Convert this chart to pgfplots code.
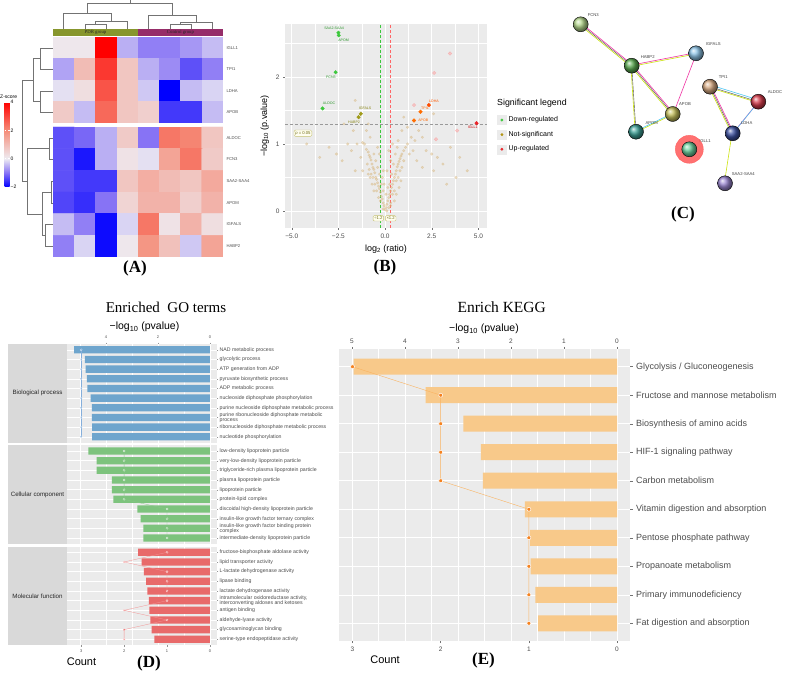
\documentclass[border=0pt]{standalone}
\usepackage{fontspec}
\setmainfont{Liberation Sans}
\newfontfamily\tnr{Liberation Serif}
\usepackage{pgfplots}
\pgfplotsset{compat=1.18}
\newcommand\fs[1]{\fontsize{#1}{#1}\selectfont}
\definecolor{txtgray}{HTML}{4D4D4D}
\definecolor{panelbg}{HTML}{EBEBEB}
\definecolor{stripbg}{HTML}{D9D9D9}
\definecolor{pdrc}{RGB}{135,150,45}
\definecolor{ctrlc}{RGB}{150,45,105}
\definecolor{downc}{RGB}{60,200,60}
\definecolor{olivec}{RGB}{160,155,25}
\definecolor{upc}{RGB}{235,35,40}
\definecolor{fainty}{RGB}{215,180,120}
\definecolor{bpbar}{RGB}{110,165,205}
\definecolor{bpdot}{RGB}{50,120,195}
\definecolor{ccbar}{RGB}{125,195,125}
\definecolor{ccdot}{RGB}{60,160,60}
\definecolor{mfbar}{RGB}{232,106,106}
\definecolor{mfdot}{RGB}{230,40,40}
\definecolor{keggbar}{RGB}{248,201,138}
\definecolor{keggdot}{RGB}{245,130,32}
\definecolor{nFCN}{RGB}{180,215,140}
\definecolor{nHAB}{RGB}{90,170,80}
\definecolor{nIGF}{RGB}{140,195,230}
\definecolor{nTPI}{RGB}{215,170,130}
\definecolor{nALD}{RGB}{215,60,75}
\definecolor{nAPB}{RGB}{195,190,90}
\definecolor{nAPM}{RGB}{60,160,150}
\definecolor{nLDH}{RGB}{60,80,160}
\definecolor{nIGL}{RGB}{110,210,160}
\definecolor{nSAA}{RGB}{155,135,210}
\pgfplotsset{colormap={zs}{rgb255(0cm)=(0,0,255) rgb255(1cm)=(135,115,245) rgb255(2cm)=(238,236,242) rgb255(4cm)=(245,140,120) rgb255(6cm)=(255,0,0)}}
\pgfplotsset{
 gobar/.style={scale only axis, width=150pt, height=98.6pt, x dir=reverse, xmin=-0.27, xmax=5.5,
  ymin=0.4, ymax=10.6, y dir=reverse, axis background/.style={fill=panelbg}, axis line style={draw=none},
  ytick={1,...,10}, ytick pos=right, yticklabel pos=right,
  yticklabel style={font=\fs{5.2}, text=txtgray, align=left, inner sep=1pt},
  xtick={0,2,4}, minor xtick={1,3,5}, grid=both, major grid style={white, line width=0.5pt},
  minor grid style={white, line width=0.25pt}, tick align=outside, major tick length=1.5pt,
  minor tick length=0pt, tick style={txtgray!60, line width=0.3pt}},
 gocount/.style={scale only axis, width=150pt, height=98.6pt, x dir=reverse, xmin=-0.163, xmax=3.33,
  ymin=0.4, ymax=10.6, y dir=reverse, axis line style={draw=none}, ytick=\empty, xtick=\empty}
}
\begin{document}
\begin{tikzpicture}
\useasboundingbox (0pt,0pt) rectangle (787pt,673pt);
\fill[white] (0pt,0pt) rectangle (787pt,673pt);

% ================= Panel A =================
\begin{axis}[at={(53pt,673pt)}, anchor=north west, scale only axis, width=170pt, height=29pt,
 xmin=53, xmax=223, ymin=0, ymax=29, y dir=reverse, hide axis, clip=false]
\addplot[black!55, line width=0.4pt, unbounded coords=jump] coordinates {
(84.9,29)(84.9,24)(106.1,24)(106.1,29) (nan,nan)
(95.5,24)(95.5,21)(127.4,21)(127.4,29) (nan,nan)
(63.6,29)(63.6,13)(111.5,13)(111.5,21) (nan,nan)
(169.9,29)(169.9,24)(191.1,24)(191.1,29) (nan,nan)
(180.5,24)(180.5,22)(212.4,22)(212.4,29) (nan,nan)
(148.6,29)(148.6,15)(196.5,15)(196.5,22) (nan,nan)
(87.5,13)(87.5,3)(172.5,3)(172.5,15) (nan,nan)
(130,3)(130,0)
};
\end{axis}

\begin{axis}[at={(0pt,636pt)}, anchor=north west, scale only axis, width=53pt, height=220pt,
 xmin=0, xmax=53, ymin=37, ymax=257, y dir=reverse, hide axis, clip=false]
\addplot[black!55, line width=0.4pt, unbounded coords=jump] coordinates {
(53,47.75)(40,47.75)(40,69.25)(53,69.25) (nan,nan)
(53,90.75)(40,90.75)(40,112.25)(53,112.25) (nan,nan)
(40,58.5)(33,58.5)(33,101.5)(40,101.5) (nan,nan)
(53,137.8)(49,137.8)(49,159.5)(53,159.5) (nan,nan)
(53,181.2)(51,181.2)(51,202.9)(53,202.9) (nan,nan)
(53,224.6)(45,224.6)(45,246.3)(53,246.3) (nan,nan)
(51,192.05)(42,192.05)(42,235.45)(45,235.45) (nan,nan)
(49,148.65)(27,148.65)(27,213.75)(42,213.75) (nan,nan)
(33,80)(22,80)(22,181.2)(27,181.2)
};
\end{axis}

\fill[pdrc] (53pt,644pt) rectangle (138pt,637pt);
\fill[ctrlc] (138pt,644pt) rectangle (223pt,637pt);
\node[font=\tnr\fs{4.8}, text=black!85] at (95.5pt,640.5pt) {PDR group};
\node[font=\tnr\fs{4.8}, text=black!85] at (180.5pt,640.5pt) {Control group};
\node[anchor=west, font=\fs{5}, inner sep=0pt] at (0pt,576pt) {Z-score};

\begin{axis}[at={(53pt,636pt)}, anchor=north west, scale only axis, width=170pt, height=86pt,
 xmin=0.5, xmax=8.5, ymin=0.5, ymax=4.5, y dir=reverse, axis line style={draw=none},
 xtick=\empty, ytick={1,2,3,4}, yticklabels={IGLL1,TPI1,LDHA,APOB}, yticklabel pos=right,
 major tick length=0pt, yticklabel style={font=\fs{4.2}, text=txtgray},
 colormap name=zs, point meta min=-2, point meta max=4,
 colorbar, colorbar style={at={(parent axis.north west)}, anchor=north east, xshift=-52pt, yshift=-65pt,
  scale only axis, width=5pt, height=85pt, ytick={-2,0,2,4}, yticklabels={−2,0,2,4},
  yticklabel style={font=\fs{5}, text=black, inner sep=1pt}, major tick length=1.5pt,
  axis line style={draw=none}, tick style={white, line width=0.4pt}}]
\addplot[matrix plot*, mesh/cols=8, mesh/rows=4, point meta=explicit] table[meta=c] {
x y c
1 1 0.1
2 1 0.1
3 1 4.0
4 1 -0.5
5 1 -0.9
6 1 -0.9
7 1 -0.7
8 1 -0.4
1 2 -0.6
2 2 1.0
3 2 3.2
4 2 0.8
5 2 -0.5
6 2 -0.8
7 2 -1.3
8 2 -0.9
1 3 -0.1
2 3 0.3
3 3 2.8
4 3 0.8
5 3 -0.3
6 3 -2.0
7 3 -0.4
8 3 -0.2
1 4 0.7
2 4 -0.4
3 4 2.5
4 4 0.8
5 4 0.6
6 4 -1.5
7 4 -1.5
8 4 -0.4
};
\end{axis}

\begin{axis}[at={(53pt,546pt)}, anchor=north west, scale only axis, width=170pt, height=130pt,
 xmin=0.5, xmax=8.5, ymin=0.5, ymax=6.5, y dir=reverse, axis line style={draw=none},
 xtick=\empty, ytick={1,...,6}, yticklabels={ALDOC,FCN3,SAA2-SAA4,APOM,IGFALS,HABP2}, yticklabel pos=right,
 major tick length=0pt, yticklabel style={font=\fs{4.2}, text=txtgray},
 colormap name=zs, point meta min=-2, point meta max=4]
\addplot[matrix plot*, mesh/cols=8, mesh/rows=6, point meta=explicit] table[meta=c] {
x y c
1 1 -1.3
2 1 -1.1
3 1 -0.5
4 1 0.7
5 1 -1.0
6 1 2.3
7 1 2.1
8 1 0.8
1 2 -1.3
2 2 -1.8
3 2 -0.5
4 2 0.2
5 2 -0.1
6 2 1.5
7 2 2.3
8 2 0.7
1 3 -1.3
2 3 -1.5
3 3 -1.5
4 3 0.8
5 3 1.3
6 3 1.0
7 3 0.8
8 3 1.4
1 4 -1.4
2 4 -1.6
3 4 -1.0
4 4 0.5
5 4 1.2
6 4 1.2
7 4 0.6
8 4 1.2
1 5 -0.4
2 5 -0.9
3 5 -1.9
4 5 -0.2
5 5 2.3
6 5 0.2
7 5 1.2
8 5 0.3
1 6 -0.9
2 6 -0.2
3 6 -1.9
4 6 0.1
5 6 1.8
6 6 0.9
7 6 -0.3
8 6 1.5
};
\end{axis}
\node[font=\tnr\bfseries\fs{17}] at (135pt,405pt) {(A)};

% ================= Panel B =================
\begin{axis}[at={(285pt,649pt)}, anchor=north west, scale only axis, width=202pt, height=204pt,
 xmin=-5.36, xmax=5.46, ymin=-0.254, ymax=2.79,
 axis background/.style={fill=panelbg}, axis line style={draw=none},
 grid=both, major grid style={white, line width=0.6pt}, minor grid style={white, line width=0.3pt},
 xtick={-5,-2.5,0,2.5,5}, minor xtick={-3.75,-1.25,1.25,3.75},
 ytick={0,1,2}, minor ytick={0.5,1.5,2.5},
 xticklabels={−5.0,−2.5,0.0,2.5,5.0}, yticklabels={0,1,2},
 xtick pos=left, ytick pos=left,
 tick align=outside, major tick length=2pt, minor tick length=0pt,
 tick style={black!55, line width=0.4pt},
 ticklabel style={font=\fs{6.5}, text=txtgray},
 xlabel={log\textsubscript{2} (ratio)}, ylabel={−log\textsubscript{10} (p.value)},
 label style={font=\fs{9}},
 legend style={at={(1.0495,0.556)}, anchor=north west, draw=none, fill=none, font=\fs{7},
  row sep=4pt, inner sep=0pt},
 legend cell align=left]
\addlegendimage{legend image code/.code={\fill[panelbg] (0pt,-4.5pt) rectangle (9pt,4.5pt); \fill[downc] (4.5pt,0pt) circle (1.2pt);}}
\addlegendentry{Down-regulated}
\addlegendimage{legend image code/.code={\fill[panelbg] (0pt,-4.5pt) rectangle (9pt,4.5pt); \fill[olivec!80!orange] (4.5pt,0pt) circle (1.2pt);}}
\addlegendentry{Not-significant}
\addlegendimage{legend image code/.code={\fill[panelbg] (0pt,-4.5pt) rectangle (9pt,4.5pt); \fill[upc] (4.5pt,0pt) circle (1.2pt);}}
\addlegendentry{Up-regulated}
\addplot[only marks, mark=*, mark size=1.3pt, color=fainty, opacity=0.4] coordinates {
(0.0,0.02) (0.05,0.05) (-0.05,0.08) (0.1,0.1) (-0.1,0.12) (0.15,0.15) (-0.15,0.18) (0.2,0.2) (-0.2,0.22)
(0.25,0.25) (-0.25,0.28) (0.3,0.3) (-0.3,0.33) (0.35,0.35) (-0.35,0.37) (0.4,0.4) (-0.4,0.42) (0.45,0.45)
(-0.45,0.47) (0.5,0.5) (-0.5,0.5) (0.55,0.55) (-0.55,0.57) (0.6,0.6) (-0.6,0.62) (0.65,0.66) (-0.65,0.65)
(0.7,0.7) (-0.7,0.7) (0.75,0.74) (-0.75,0.76) (0.8,0.78) (-0.8,0.8) (0.85,0.82) (-0.85,0.83) (0.9,0.85)
(-0.9,0.88) (1.0,0.9) (-1.0,0.92) (1.1,0.95) (-1.1,1.0) (1.2,1.0) (-1.2,1.02)
(0.2,0.05) (0.3,0.12) (0.4,0.25) (0.25,0.4) (0.35,0.55) (0.5,0.3) (0.6,0.45) (0.45,0.7) (0.7,0.5)
(0.8,0.6) (0.55,0.85) (0.9,0.65) (1.0,0.75) (0.65,0.95) (-0.2,0.4) (-0.3,0.55) (-0.4,0.65) (-0.5,0.75)
(-0.6,0.85) (-0.1,0.3) (-0.25,0.15) (-0.35,0.2) (-0.45,0.3) (-0.55,0.4) (-0.65,0.5) (-0.75,0.55)
(-0.85,0.62) (-0.95,0.7) (-0.15,0.5) (0.15,0.35) (0.1,0.6) (0.3,0.75) (-0.05,0.4) (0.05,0.25) (-0.1,0.6)
(0.2,0.9) (-0.3,0.85) (0.4,1.0) (0.7,1.05) (1.3,0.85) (1.4,1.1) (1.5,0.9) (1.6,1.05) (1.8,1.2) (2.0,1.1)
(1.7,0.75) (2.2,0.9) (2.5,0.85) (2.8,0.8) (3.1,0.7) (3.5,0.95) (4.0,0.8) (4.4,0.6) (3.8,0.5) (3.3,0.4)
(2.6,0.6) (2.0,0.65) (-1.3,0.8) (-1.5,1.0) (-1.7,1.2) (-1.8,0.9) (-2.0,1.0) (-2.3,0.75) (-2.6,0.85)
(-3.0,0.95) (-3.5,0.8) (-4.2,1.0) (-1.6,0.6) (-1.2,0.6) (-1.0,1.2) (-0.8,1.1) (-0.9,1.3) (-1.6,1.65)
(-0.4,0.95) (0.9,1.2) (1.2,1.25) (1.0,1.4) (2.6,1.45) (-2.2,1.3) (0.1,0.0) (-0.1,0.03) (0.3,0.08)
(0.5,0.15) (0.6,0.25) (0.75,0.35) (0.85,0.45) (-0.6,0.3) (-0.7,0.4) (-0.8,0.5) (-0.9,0.55)
};
\addplot[only marks, mark=*, mark size=1.8pt, color=red!45, opacity=0.4] coordinates {
(3.48,2.35) (2.63,2.06) (3.86,1.2) (2.73,1.07) (1.55,1.58)
};
\addplot[densely dashed, black!40, line width=0.4pt] coordinates {(-5.36,1.301) (5.46,1.301)};
\addplot[densely dashed, downc, line width=0.4pt] coordinates {(-0.263,-0.254) (-0.263,2.79)};
\addplot[densely dashed, red!60, line width=0.4pt] coordinates {(0.263,-0.254) (0.263,2.79)};
\addplot[only marks, mark=*, mark size=1.8pt, color=downc] coordinates {
(-2.5,2.66) (-2.48,2.62) (-2.65,2.07) (-3.35,1.53)};
\addplot[only marks, mark=*, mark size=1.8pt, color=olivec] coordinates {
(-1.3,1.45) (-1.42,1.40)};
\addplot[only marks, mark=*, mark size=1.8pt, color=orange!85!red] coordinates {
(1.55,1.35) (1.9,1.48)};
\addplot[only marks, mark=*, mark size=1.8pt, color=orange!60!red] coordinates {
(2.35,1.58)};
\addplot[only marks, mark=*, mark size=1.8pt, color=upc] coordinates {
(4.9,1.31)};
\node[font=\fs{3.6}, text=downc!75!black] at (axis cs:-2.73,2.73) {SAA2-SAA4};
\node[font=\fs{3.6}, text=downc!75!black] at (axis cs:-2.22,2.55) {APOM};
\node[font=\fs{3.6}, text=downc!75!black] at (axis cs:-2.9,1.99) {FCN3};
\node[font=\fs{3.6}, text=downc!75!black] at (axis cs:-3.0,1.6) {ALDOC};
\node[font=\fs{3.6}, text=olivec!85!black] at (axis cs:-1.07,1.53) {IGFALS};
\node[font=\fs{3.6}, text=olivec!85!black] at (axis cs:-1.66,1.32) {HABP2};
\node[font=\fs{3.6}, text=orange!70!red] at (axis cs:2.62,1.64) {LDHA};
\node[font=\fs{3.6}, text=orange!80!red] at (axis cs:2.14,1.53) {TPI1};
\node[font=\fs{3.6}, text=orange!80!red] at (axis cs:2.05,1.36) {APOB};
\node[font=\fs{3.6}, text=red!80!black] at (axis cs:4.7,1.25) {IGLL1};
\node[draw=olivec!60, fill=yellow!6, rounded corners=1.5pt, font=\fs{4.2}, text=olivec!70!black, inner sep=1.3pt, line width=0.4pt] at (axis cs:-4.4,1.16) {\textit{p} = 0.05};
\node[draw=olivec!60, fill=yellow!6, rounded corners=1.2pt, font=\fs{4.2}, text=olivec!70!black, inner sep=1.2pt, line width=0.4pt] at (axis cs:-0.36,-0.11) {÷1.2};
\node[draw=olivec!60, fill=yellow!6, rounded corners=1.2pt, font=\fs{4.2}, text=olivec!70!black, inner sep=1.2pt, line width=0.4pt] at (axis cs:0.3,-0.11) {×1.2};
\end{axis}
\node[anchor=west, font=\fs{8.8}, inner sep=0pt] at (497pt,570pt) {Significant legend};
\node[font=\tnr\bfseries\fs{17}] at (385pt,406pt) {(B)};

% ================= Panel C =================
\begin{axis}[at={(560pt,673pt)}, anchor=north west, scale only axis, width=227pt, height=200pt,
 xmin=560, xmax=787, ymin=0, ymax=200, y dir=reverse, hide axis, clip=false]
\addplot[magenta!80, line width=0.6pt, unbounded coords=jump, xshift=0.8pt, yshift=0.8pt] coordinates {
(580.7,24.3)(631.7,65.7) (nan,nan) (631.7,65.7)(696,53.3) (nan,nan) (631.7,65.7)(672.7,114) (nan,nan)
(696,53.3)(672.7,114) (nan,nan) (710,86.7)(732.7,133.3) (nan,nan) (758.3,101.7)(732.7,133.3)};
\addplot[yellow!80!green, line width=0.6pt, unbounded coords=jump, xshift=-0.8pt, yshift=-0.8pt] coordinates {
(580.7,24.3)(631.7,65.7) (nan,nan) (631.7,65.7)(696,53.3) (nan,nan) (631.7,65.7)(672.7,114) (nan,nan)
(631.7,65.7)(636,131.7) (nan,nan) (672.7,114)(636,131.7) (nan,nan) (710,86.7)(758.3,101.7) (nan,nan)
(710,86.7)(732.7,133.3) (nan,nan) (732.7,133.3)(725,183.3)};
\addplot[black!70, line width=0.4pt, unbounded coords=jump] coordinates {
(580.7,24.3)(631.7,65.7) (nan,nan) (631.7,65.7)(672.7,114) (nan,nan) (631.7,65.7)(636,131.7) (nan,nan)
(710,86.7)(758.3,101.7) (nan,nan) (710,86.7)(732.7,133.3)};
\addplot[cyan!70, line width=0.6pt, unbounded coords=jump, xshift=1.4pt, yshift=1.4pt] coordinates {
(672.7,114)(636,131.7) (nan,nan) (710,86.7)(758.3,101.7) (nan,nan) (758.3,101.7)(732.7,133.3)};
\addplot[only marks, mark=*, mark size=14pt, color=red!65, opacity=0.85] coordinates {(689.3,149.3)};
\addplot[only marks, mark=ball, mark size=7.5pt, mark options={ball color=nFCN}] coordinates {(580.7,24.3)};
\addplot[only marks, mark=ball, mark size=7.5pt, mark options={ball color=nHAB}] coordinates {(631.7,65.7)};
\addplot[only marks, mark=ball, mark size=7.5pt, mark options={ball color=nIGF}] coordinates {(696,53.3)};
\addplot[only marks, mark=ball, mark size=7.5pt, mark options={ball color=nTPI}] coordinates {(710,86.7)};
\addplot[only marks, mark=ball, mark size=7.5pt, mark options={ball color=nALD}] coordinates {(758.3,101.7)};
\addplot[only marks, mark=ball, mark size=7.5pt, mark options={ball color=nAPB}] coordinates {(672.7,114)};
\addplot[only marks, mark=ball, mark size=7.5pt, mark options={ball color=nAPM}] coordinates {(636,131.7)};
\addplot[only marks, mark=ball, mark size=7.5pt, mark options={ball color=nLDH}] coordinates {(732.7,133.3)};
\addplot[only marks, mark=ball, mark size=7.5pt, mark options={ball color=nIGL}] coordinates {(689.3,149.3)};
\addplot[only marks, mark=ball, mark size=7.5pt, mark options={ball color=nSAA}] coordinates {(725,183.3)};
\node[font=\fs{4.2}, text=black!75] at (axis cs:593.3,15) {FCN3};
\node[font=\fs{4.2}, text=black!75] at (axis cs:647.7,56.7) {HABP2};
\node[font=\fs{4.2}, text=black!75] at (axis cs:713.3,44.3) {IGFALS};
\node[font=\fs{4.2}, text=black!75] at (axis cs:723.3,77.3) {TPI1};
\node[font=\fs{4.2}, text=black!75] at (axis cs:775,92.3) {ALDOC};
\node[font=\fs{4.2}, text=black!75] at (axis cs:685,104) {APOB};
\node[font=\fs{4.2}, text=black!75] at (axis cs:651.7,122.7) {APOM};
\node[font=\fs{4.2}, text=black!75] at (axis cs:746.7,123.3) {LDHA};
\node[font=\fs{4.2}, text=black!75] at (axis cs:705,140.7) {IGLL1};
\node[font=\fs{4.2}, text=black!75] at (axis cs:743.3,174) {SAA2-SAA4};
\end{axis}
\node[font=\tnr\bfseries\fs{17}] at (683pt,458.5pt) {(C)};

% ================= Panel D =================
\node[font=\tnr\fs{15}] at (166pt,366pt) {Enriched\ \ GO terms};
\node[font=\fs{10.5}] at (144.5pt,346.3pt) {−log\textsubscript{10} (pvalue)};
\fill[stripbg] (8pt,329pt) rectangle (67pt,230.4pt);
\fill[stripbg] (8pt,227.8pt) rectangle (67pt,129.2pt);
\fill[stripbg] (8pt,126.5pt) rectangle (67pt,27.9pt);
\node[font=\fs{6.2}, text=black!85] at (37.5pt,279.7pt) {Biological process};
\node[font=\fs{6.2}, text=black!85] at (37.5pt,178.5pt) {Cellular component};
\node[font=\fs{6.2}, text=black!85] at (37.5pt,77.2pt) {Molecular function};

\begin{axis}[gobar, at={(67pt,329pt)}, anchor=north west,
 xtick pos=right, xticklabel pos=right, xticklabels={0,2,4}, xticklabel style={font=\fs{4}, text=txtgray},
 yticklabels={{NAD metabolic process},{glycolytic process},{ATP generation from ADP},{pyruvate biosynthetic process},{ADP metabolic process},{nucleoside diphosphate phosphorylation},{purine nucleoside diphosphate metabolic process},{purine ribonucleoside diphosphate metabolic\\process},{ribonucleoside diphosphate metabolic process},{nucleotide phosphorylation}}]
\addplot[xbar, bar width=7.3pt, fill=bpbar, draw=none] coordinates {
(5.23,1) (4.81,2) (4.78,3) (4.74,4) (4.72,5) (4.59,6) (4.54,7) (4.54,8) (4.53,9) (4.53,10)};
\end{axis}
\begin{axis}[gocount, at={(67pt,329pt)}, anchor=north west]
\addplot[bpdot!60, line width=0.3pt, mark=*, mark size=1pt, mark options={fill=bpdot, draw=white, line width=0.3pt}] coordinates {
(3,1) (3,2) (3,3) (3,4) (3,5) (3,6) (3,7) (3,8) (3,9) (3,10)};
\end{axis}

\begin{axis}[gobar, at={(67pt,227.8pt)}, anchor=north west, xticklabels={,,}, xtick style={draw=none},
 yticklabels={{low-density lipoprotein particle},{very-low-density lipoprotein particle},{triglyceride-rich plasma lipoprotein particle},{plasma lipoprotein particle},{lipoprotein particle},{protein-lipid complex},{discoidal high-density lipoprotein particle},{insulin-like growth factor ternary complex},{insulin-like growth factor binding protein\\complex},{intermediate-density lipoprotein particle}}]
\addplot[xbar, bar width=7.3pt, fill=ccbar, draw=none] coordinates {
(4.68,1) (4.36,2) (4.36,3) (3.77,4) (3.77,5) (3.72,6) (2.79,7) (2.67,8) (2.56,9) (2.56,10)};
\end{axis}
\begin{axis}[gocount, at={(67pt,227.8pt)}, anchor=north west]
\addplot[ccdot!60, line width=0.3pt, mark=*, mark size=1pt, mark options={fill=ccdot, draw=white, line width=0.3pt}] coordinates {
(2,1) (2,2) (2,3) (2,4) (2,5) (2,6) (1,7) (1,8) (1,9) (1,10)};
\end{axis}

\begin{axis}[gobar, at={(67pt,126.5pt)}, anchor=north west, xticklabels={,,}, xtick style={draw=none},
 yticklabels={{fructose-bisphosphate aldolase activity},{lipid transporter activity},{L-lactate dehydrogenase activity},{lipase binding},{lactate dehydrogenase activity},{intramolecular oxidoreductase activity,\\interconverting aldoses and ketoses},{antigen binding},{aldehyde-lyase activity},{glycosaminoglycan binding},{serine-type endopeptidase activity}}]
\addplot[xbar, bar width=7.3pt, fill=mfbar, draw=none] coordinates {
(2.76,1) (2.63,2) (2.54,3) (2.46,4) (2.41,5) (2.35,6) (2.33,7) (2.29,8) (2.24,9) (2.14,10)};
\end{axis}
\begin{axis}[gocount, at={(67pt,126.5pt)}, anchor=north west,
 xtick={0,1,2,3}, xticklabels={0,1,2,3}, xtick pos=left, xticklabel pos=left,
 xticklabel style={font=\fs{4}, text=txtgray}, tick align=outside, major tick length=1.5pt,
 tick style={txtgray!60, line width=0.3pt}]
\addplot[mfdot!50, line width=0.3pt, mark=*, mark size=1pt, mark options={fill=mfdot, draw=white, line width=0.3pt}] coordinates {
(1,1) (2,2) (1,3) (1,4) (1,5) (1,6) (2,7) (1,8) (2,9) (2,10)};
\end{axis}
\node[font=\fs{11}] at (81.5pt,11.7pt) {Count};
\node[font=\tnr\bfseries\fs{17}] at (149pt,9.5pt) {(D)};

% ================= Panel E =================
\node[font=\tnr\fs{15.5}] at (501.7pt,365.7pt) {Enrich KEGG};
\node[font=\fs{10.5}] at (484pt,344pt) {−log\textsubscript{10} (pvalue)};
\begin{axis}[at={(339.3pt,323.7pt)}, anchor=north west, scale only axis, width=290.7pt, height=291.4pt,
 x dir=reverse, xmin=-0.245, xmax=5.24, ymin=0.39, ymax=10.61, y dir=reverse,
 axis background/.style={fill=panelbg}, axis line style={draw=none},
 ytick={1,...,10}, ytick pos=right, yticklabel pos=right,
 yticklabel style={font=\fs{9}, text=txtgray},
 yticklabels={{Glycolysis / Gluconeogenesis},{Fructose and mannose metabolism},{Biosynthesis of amino acids},{HIF-1 signaling pathway},{Carbon metabolism},{Vitamin digestion and absorption},{Pentose phosphate pathway},{Propanoate metabolism},{Primary immunodeficiency},{Fat digestion and absorption}},
 xtick={0,1,2,3,4,5}, xticklabels={0,1,2,3,4,5}, minor xtick={0.5,1.5,2.5,3.5,4.5},
 xtick pos=right, xticklabel pos=right, xticklabel style={font=\fs{6.5}, text=txtgray},
 grid=both, major grid style={white, line width=0.6pt}, minor grid style={white, line width=0.3pt},
 tick align=outside, major tick length=2.5pt, minor tick length=0pt,
 tick style={black!55, line width=0.4pt}]
\addplot[xbar, bar width=16pt, fill=keggbar, draw=none] coordinates {
(4.97,1) (3.61,2) (2.90,3) (2.57,4) (2.53,5) (1.74,6) (1.64,7) (1.63,8) (1.54,9) (1.49,10)};
\end{axis}
\begin{axis}[at={(339.3pt,323.7pt)}, anchor=north west, scale only axis, width=290.7pt, height=291.4pt,
 x dir=reverse, xmin=-0.147, xmax=3.15, ymin=0.39, ymax=10.61, y dir=reverse,
 axis line style={draw=none}, ytick=\empty,
 xtick={0,1,2,3}, xticklabels={0,1,2,3}, xtick pos=left, xticklabel pos=left,
 xticklabel style={font=\fs{6.5}, text=txtgray}, tick align=outside, major tick length=2.5pt,
 tick style={black!55, line width=0.4pt}]
\addplot[keggbar!70!orange, line width=0.4pt, mark=*, mark size=2pt, mark options={fill=keggdot, draw=white, line width=0.5pt}] coordinates {
(3,1) (2,2) (2,3) (2,4) (2,5) (1,6) (1,7) (1,8) (1,9) (1,10)};
\end{axis}
\node[font=\fs{11}] at (385pt,13.7pt) {Count};
\node[font=\tnr\bfseries\fs{17}] at (483.5pt,12.3pt) {(E)};
\end{tikzpicture}
\end{document}
